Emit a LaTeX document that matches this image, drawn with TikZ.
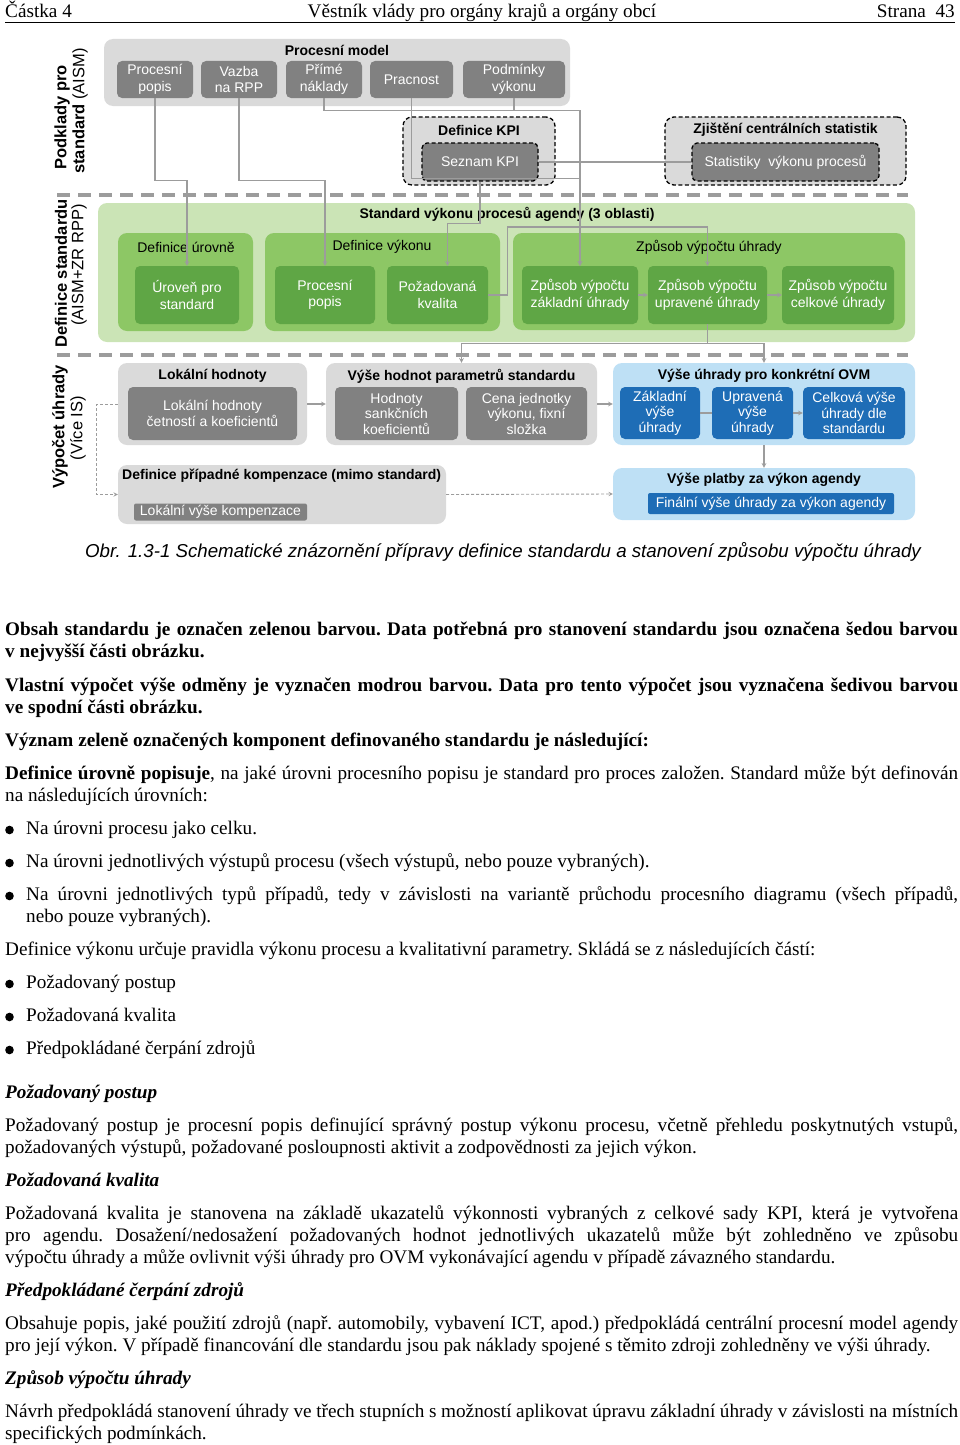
\documentclass[tikz,border=0pt]{standalone}
\usepackage{fontspec}
\setmainfont{Liberation Serif}
\newfontfamily\diagfont{Liberation Sans}
\usepackage{xcolor}
\usetikzlibrary{shapes,arrows,positioning,calc}

\definecolor{grpgray}{HTML}{DADADA}
\definecolor{datagray}{HTML}{818181}
\definecolor{linegray}{HTML}{9C9C9C}
\definecolor{stdgreen}{HTML}{CBE4B6}
\definecolor{midgreen}{HTML}{8DC765}
\definecolor{darkgreen}{HTML}{5FA645}
\definecolor{paleblue}{HTML}{BEE0F5}
\definecolor{deepblue}{HTML}{1E6DB6}

\newcommand{\dg}{\diagfont\fontsize{14}{16.5}\selectfont}
\newcommand{\sidefont}{\diagfont\fontsize{16.5}{18}\selectfont}
\newcommand{\bodyfont}{\fontsize{19.2}{22}\selectfont\frenchspacing\hyphenpenalty=10000\tolerance=9999}

\begin{document}
\begin{tikzpicture}[
    x=1pt, y=-1pt,
    group/.style={rectangle, rounded corners=9pt, fill=grpgray, inner sep=0pt},
    kpigroup/.style={group, draw=black, dash pattern=on 4pt off 2.5pt, line width=1.3pt},
    data/.style={rectangle, rounded corners=5pt, fill=datagray, text=white, font=\dg, align=center, inner sep=0pt},
    kpidata/.style={data, draw=black, dash pattern=on 4pt off 2.5pt, line width=1.3pt},
    stdarea/.style={group, fill=stdgreen},
    area/.style={group, fill=midgreen},
    part/.style={data, fill=darkgreen},
    payarea/.style={group, fill=paleblue},
    paybox/.style={data, fill=deepblue},
    title/.style={font=\dg\bfseries, inner sep=0pt},
    subtitle/.style={font=\dg, inner sep=0pt},
    side/.style={font=\sidefont, rotate=90, inner sep=0pt},
    sepline/.style={draw=linegray, line width=4pt, dash pattern=on 13pt off 8pt},
    conn/.style={draw=linegray, line width=1.1pt},
    arrow/.style={conn, ->, >=stealth},
    dasharrow/.style={arrow, line width=0.9pt, dash pattern=on 3pt off 2pt},
    para/.style={anchor=base west, inner sep=0pt, text width=953pt, align=justify, font=\bodyfont},
    item/.style={para, text width=932pt},
    dot/.style={fill=black}
]
\useasboundingbox (0,0) rectangle (960,1445);

% Header
\node[anchor=base west, inner sep=0pt, font=\bodyfont] (castka) at (5,18) {Částka 4};
\node[anchor=base, inner sep=0pt, font=\bodyfont] (vestnik) at (482,18) {Věstník vlády pro orgány krajů a orgány obcí};
\node[anchor=base east, inner sep=0pt, font=\bodyfont] (strana) at (955,18) {Strana~ 43};
\draw[line width=1.2pt] (castka.south west |- 0,22.5) -- (strana.south east |- 0,22.5);

% Side labels
\node[side, font=\sidefont\bfseries] (podklady) at (62,117.5) {Podklady pro};
\node[side] (aism) at (80,111) {\textbf{standard} (AISM)};
\node[side, font=\sidefont\bfseries] (defstd) at (61,273.5) {Definice standardu};
\node[side] (aismzr) at (79,265) {(AISM+ZR RPP)};
\node[side, font=\sidefont\bfseries] (vypocet) at (60,427) {Výpočet úhrady};
\node[side] (viceis) at (78,428) {(Více IS)};

% Separators
\draw[sepline] (57,195) -- (908,195);
\draw[sepline] (57,355) -- (908,355);

% Top: process model
\node[group, minimum width=466pt, minimum height=67pt] (procmodel) at (337,72.5) {};
\node[title] (tmodel) at (337,50) {Procesní model};
\node[data, minimum width=76pt, minimum height=37pt] (ppopis) at (155,79.5) {Procesní\\popis};
\node[data, minimum width=76pt, minimum height=37pt] (vazba) at (239,79.5) {Vazba\\na RPP};
\node[data, minimum width=76pt, minimum height=37pt] (naklady) at (324,79.5) {Přímé\\náklady};
\node[data, minimum width=83pt, minimum height=37pt] (pracnost) at (411.5,79.5) {Pracnost};
\node[data, minimum width=102pt, minimum height=37pt] (podminky) at (514,79.5) {Podmínky\\výkonu};

\node[kpigroup, minimum width=152pt, minimum height=68pt] (defkpi) at (479,151) {};
\node[title] (tkpi) at (479,130) {Definice KPI};
\node[kpidata, minimum width=116pt, minimum height=38pt] (seznam) at (480,162) {Seznam KPI};

\node[kpigroup, minimum width=241pt, minimum height=68pt] (zjisteni) at (785.5,151) {};
\node[title] (tzjist) at (785.5,130) {Zjištění centrálních statistik};
\node[kpidata, minimum width=187pt, minimum height=38pt] (statistiky) at (785.5,162) {Statistiky\ \ výkonu procesů};

% Middle: standard
\node[stdarea, minimum width=817pt, minimum height=139pt] (standard) at (506.5,272.5) {};
\node[title] (tstd) at (507,214) {Standard výkonu procesů agendy (3 oblasti)};

\node[area, minimum width=135pt, minimum height=98pt] (defur) at (185.5,282) {};
\node[subtitle] (tdefur) at (186,247) {Definice úrovně};
\node[part, minimum width=104pt, minimum height=58pt] (uroven) at (187,295) {Úroveň pro\\standard};

\node[area, minimum width=235pt, minimum height=98pt] (defvyk) at (382.5,282) {};
\node[subtitle] (tdefvyk) at (382,247) {Definice výkonu};
\node[part, minimum width=100pt, minimum height=58pt] (ppopis2) at (325,295) {Procesní\\popis};
\node[part, minimum width=101pt, minimum height=58pt] (kvalita) at (437.5,295) {Požadovaná\\kvalita};

\node[area, minimum width=392pt, minimum height=97pt] (zpusob) at (709,281.5) {};
\node[subtitle] (tzpusob) at (709,247) {Způsob výpočtu úhrady};
\node[part, minimum width=116pt, minimum height=58pt] (zakl) at (580,295) {Způsob výpočtu\\základní úhrady};
\node[part, minimum width=119pt, minimum height=58pt] (uprav) at (707.5,295) {Způsob výpočtu\\upravené úhrady};
\node[part, minimum width=112pt, minimum height=58pt] (celk) at (838,295) {Způsob výpočtu\\celkové úhrady};

% Bottom: payment
\node[group, minimum width=189pt, minimum height=82pt] (lokhod) at (212.5,404) {};
\node[title] (tlokhod) at (212.5,376) {Lokální hodnoty};
\node[data, minimum width=169pt, minimum height=53pt] (lokhodbox) at (212.5,413.5) {Lokální hodnoty\\četností a koeficientů};

\node[group, minimum width=271pt, minimum height=82pt] (vyshod) at (461.5,404) {};
\node[title] (tvyshod) at (461.5,376) {Výše hodnot parametrů standardu};
\node[data, minimum width=123pt, minimum height=53pt, font=\diagfont\fontsize{14}{15.5}\selectfont] (sankce) at (396.5,413.5) {Hodnoty\\sankčních\\koeficientů};
\node[data, minimum width=121pt, minimum height=53pt, font=\diagfont\fontsize{14}{15.5}\selectfont] (cena) at (526.5,413.5) {Cena jednotky\\výkonu, fixní\\složka};

\node[payarea, minimum width=302pt, minimum height=82pt] (ovm) at (764,404) {};
\node[title] (tovm) at (764,376) {Výše úhrady pro konkrétní OVM};
\node[paybox, minimum width=80pt, minimum height=52pt, font=\diagfont\fontsize{14}{15.5}\selectfont] (zakvys) at (660,413) {Základní\\výše\\úhrady};
\node[paybox, minimum width=81pt, minimum height=52pt, font=\diagfont\fontsize{14}{15.5}\selectfont] (upvys) at (752.5,413) {Upravená\\výše\\úhrady};
\node[paybox, minimum width=102pt, minimum height=52pt, font=\diagfont\fontsize{14}{15.5}\selectfont] (celvys) at (854,413) {Celková výše\\úhrady dle\\standardu};

\node[payarea, minimum width=302pt, minimum height=52pt] (platba) at (764,494) {};
\node[title] (tplatba) at (764,480) {Výše platby za výkon agendy};
\node[paybox, rounded corners=2pt, minimum width=246pt, minimum height=21pt] (finalni) at (771,503.5) {Finální výše úhrady za výkon agendy};

\node[group, minimum width=328pt, minimum height=59pt] (komp) at (282,494.5) {};
\node[title, anchor=west] (tkomp) at (122,476) {Definice případné kompenzace (mimo standard)};
\node[data, rounded corners=2pt, minimum width=173pt, minimum height=17pt] (lokkomp) at (220.5,512) {Lokální výše kompenzace};

% Arrows
\draw[arrow] (ppopis.south) -- ++(0,82) -| (uroven.north);
\draw[arrow] (vazba.south) -- ++(0,82) -| (ppopis2.north);
\draw[arrow] (naklady.south) -- ++(0,12) -| (zakl.north);
\draw[conn] (podminky.south) -- ++(0,12);
\draw[arrow] (pracnost.south) -- ++(0,80) -| (zakl.north);
\draw[conn] (seznam.east) -- (statistiky.west);
\draw[arrow] (seznam.south) -- ++(0,42) -| ([xshift=10pt]kvalita.north);
\draw[arrow] (kvalita.east) -- ++(19,0) -- ++(0,-68) -| (uprav.north);
\draw[arrow] (zakl) -- (uprav);
\draw[arrow] (uprav) -- (celk);
\draw[arrow] (uprav.south) -- ++(0,19) -| (vyshod.north);
\draw[arrow] (uprav.south) -- ++(0,19) -| (ovm.north);
\draw[arrow] (lokhod) -- (vyshod);
\draw[arrow] (vyshod) -- (ovm);
\draw[conn] (zakvys) -- (upvys);
\draw[arrow] (upvys) -- (celvys);
\draw[arrow] (ovm) -- (platba);
\draw[dasharrow] (lokhod.west) -- ++(-21,0) |- (komp.west);
\draw[dasharrow] (komp.east) -- (platba.west);

% Caption
\node[anchor=base west, inner sep=0pt, font=\diagfont\itshape\fontsize{18.7}{20}\selectfont] (caption) at (85,557) {Obr. 1.3-1 Schematické znázornění přípravy definice standardu a stanovení způsobu výpočtu úhrady};

% Text
\node[para] (p1) at (5,635) {\textbf{Obsah standardu je označen zelenou barvou. Data potřebná pro stanovení standardu jsou označena šedou barvou\linebreak v nejvyšší části obrázku.}};
\node[para] (p2) at (5,691) {\textbf{Vlastní výpočet výše odměny je vyznačen modrou barvou. Data pro tento výpočet jsou vyznačena šedivou barvou\linebreak ve spodní části obrázku.}};
\node[para] (p3) at (5,746) {\textbf{Význam zeleně označených komponent definovaného standardu je následující:}};
\node[para] (p4) at (5,779) {\textbf{Definice úrovně popisuje}, na jaké úrovni procesního popisu je standard pro proces založen. Standard může být definován\linebreak na následujících úrovních:};
\fill[dot] (9.5,830) circle (4.3);
\node[item] (b1) at (26,834) {Na úrovni procesu jako celku.};
\fill[dot] (9.5,863) circle (4.3);
\node[item] (b2) at (26,867) {Na úrovni jednotlivých výstupů procesu (všech výstupů, nebo pouze vybraných).};
\fill[dot] (9.5,896) circle (4.3);
\node[item] (b3) at (26,900) {Na úrovni jednotlivých typů případů, tedy v závislosti na variantě průchodu procesního diagramu (všech případů,\linebreak nebo pouze vybraných).};
\node[para] (p5) at (5,955) {Definice výkonu určuje pravidla výkonu procesu a kvalitativní parametry. Skládá se z následujících částí:};
\fill[dot] (9.5,984) circle (4.3);
\node[item] (b4) at (26,988) {Požadovaný postup};
\fill[dot] (9.5,1017) circle (4.3);
\node[item] (b5) at (26,1021) {Požadovaná kvalita};
\fill[dot] (9.5,1050) circle (4.3);
\node[item] (b6) at (26,1054) {Předpokládané čerpání zdrojů};
\node[para] (h1) at (5,1098) {\textbf{\textit{Požadovaný postup}}};
\node[para] (p6) at (5,1131) {Požadovaný postup je procesní popis definující správný postup výkonu procesu, včetně přehledu poskytnutých vstupů,\linebreak požadovaných výstupů, požadované posloupnosti aktivit a zodpovědnosti za jejich výkon.};
\node[para] (h2) at (5,1186) {\textbf{\textit{Požadovaná kvalita}}};
\node[para] (p7) at (5,1219) {Požadovaná kvalita je stanovena na základě ukazatelů výkonnosti vybraných z celkové sady KPI, která je vytvořena\linebreak pro agendu. Dosažení/nedosažení požadovaných hodnot jednotlivých ukazatelů může být zohledněno ve způsobu\linebreak výpočtu úhrady a může ovlivnit výši úhrady pro OVM vykonávající agendu v případě závazného standardu.};
\node[para] (h3) at (5,1296) {\textbf{\textit{Předpokládané čerpání zdrojů}}};
\node[para] (p8) at (5,1329) {Obsahuje popis, jaké použití zdrojů (např. automobily, vybavení ICT, apod.) předpokládá centrální procesní model agendy\linebreak pro její výkon. V případě financování dle standardu jsou pak náklady spojené s těmito zdroji zohledněny ve výši úhrady.};
\node[para] (h4) at (5,1384) {\textbf{\textit{Způsob výpočtu úhrady}}};
\node[para] (p9) at (5,1417) {Návrh předpokládá stanovení úhrady ve třech stupních s možností aplikovat úpravu základní úhrady v závislosti na místních\linebreak specifických podmínkách.};

\end{tikzpicture}
\end{document}
